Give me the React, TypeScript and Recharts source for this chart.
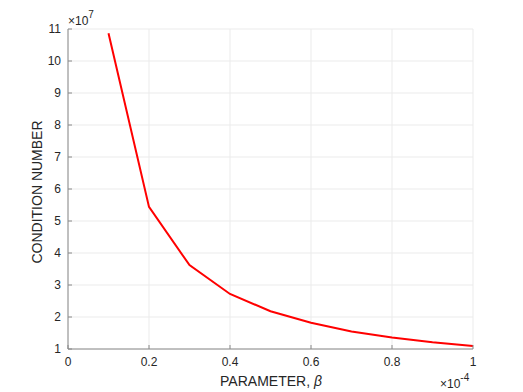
import React from 'react';
import { LineChart, Line, XAxis, YAxis, CartesianGrid } from 'recharts';

const betaValues = [0.1, 0.2, 0.3, 0.4, 0.5, 0.6, 0.7, 0.8, 0.9, 1.0];
const conditionValues = [10.87, 5.44, 3.62, 2.72, 2.18, 1.82, 1.55, 1.36, 1.21, 1.09];
const xTicks = [0, 0.2, 0.4, 0.6, 0.8, 1];
const yTicks = [1, 2, 3, 4, 5, 6, 7, 8, 9, 10, 11];

const data = betaValues.map((x, i) => ({ x, y: conditionValues[i] }));

const AXIS = '#8a8a8a';
const TEXT = '#262626';
const FONT = '"Liberation Sans", Arial, sans-serif';

// ticks point inward, MATLAB style
function BottomTick(props: any) {
  const { x, y, payload } = props;
  return (
    <g>
      <line x1={x} y1={y} x2={x} y2={y - 4} stroke={AXIS} />
      <text x={x} y={y + 17} textAnchor="middle" fontSize={12} fill={TEXT} fontFamily={FONT}>
        {String(payload.value)}
      </text>
    </g>
  );
}

function TopTick(props: any) {
  const { x, y } = props;
  return <line x1={x} y1={y} x2={x} y2={y + 4} stroke={AXIS} />;
}

function LeftTick(props: any) {
  const { x, y, payload } = props;
  return (
    <g>
      <line x1={x} y1={y} x2={x + 4} y2={y} stroke={AXIS} />
      <text x={x - 7} y={y + 4} textAnchor="end" fontSize={12} fill={TEXT} fontFamily={FONT}>
        {String(payload.value)}
      </text>
    </g>
  );
}

function RightTick(props: any) {
  const { x, y } = props;
  return <line x1={x} y1={y} x2={x - 4} y2={y} stroke={AXIS} />;
}

export default function App() {
  return (
    <div style={{ position: 'absolute', left: 0, top: 0, width: 523, height: 392, background: '#fff' }}>
      <LineChart width={523} height={392} data={data} margin={{ top: 29, right: 50, bottom: 0, left: 0 }}>
        <CartesianGrid xAxisId="bottom" yAxisId="left" stroke="#ebebeb" verticalValues={xTicks} horizontalValues={yTicks} />
        <XAxis
          xAxisId="bottom"
          type="number"
          dataKey="x"
          domain={[0, 1]}
          ticks={xTicks}
          height={43}
          tickSize={0}
          tickMargin={0}
          tickLine={false}
          stroke={AXIS}
          tick={<BottomTick />}
          interval={0}
        />
        <XAxis
          xAxisId="top"
          orientation="top"
          type="number"
          dataKey="x"
          domain={[0, 1]}
          ticks={xTicks}
          height={0}
          tickSize={0}
          tickMargin={0}
          tickLine={false}
          stroke={AXIS}
          tick={<TopTick />}
          interval={0}
        />
        <YAxis
          yAxisId="left"
          type="number"
          domain={[1, 11]}
          ticks={yTicks}
          width={68}
          tickSize={0}
          tickMargin={0}
          tickLine={false}
          stroke={AXIS}
          tick={<LeftTick />}
          interval={0}
        />
        <YAxis
          yAxisId="right"
          orientation="right"
          type="number"
          domain={[1, 11]}
          ticks={yTicks}
          width={0}
          tickSize={0}
          tickMargin={0}
          tickLine={false}
          stroke={AXIS}
          tick={<RightTick />}
          interval={0}
        />
        <Line
          xAxisId="bottom"
          yAxisId="left"
          type="linear"
          dataKey="y"
          stroke="#ff0000"
          strokeWidth={2}
          dot={false}
          isAnimationActive={false}
        />
      </LineChart>
      <svg
        width={523}
        height={392}
        style={{ position: 'absolute', left: 0, top: 0, pointerEvents: 'none' }}
        fontFamily={FONT}
        fill={TEXT}
      >
        <text x={68} y={25} fontSize={12}>
          ×10<tspan dy={-7} fontSize={10}>7</tspan>
        </text>
        <text x={440} y={388} fontSize={12}>
          ×10<tspan dy={-7} fontSize={10}>-4</tspan>
        </text>
        <text x={271} y={386} fontSize={14} textAnchor="middle">
          PARAMETER, <tspan fontStyle="italic">β</tspan>
        </text>
        <text x={42} y={192} fontSize={14} textAnchor="middle" transform="rotate(-90, 42, 192)">
          CONDITION NUMBER
        </text>
      </svg>
    </div>
  );
}
